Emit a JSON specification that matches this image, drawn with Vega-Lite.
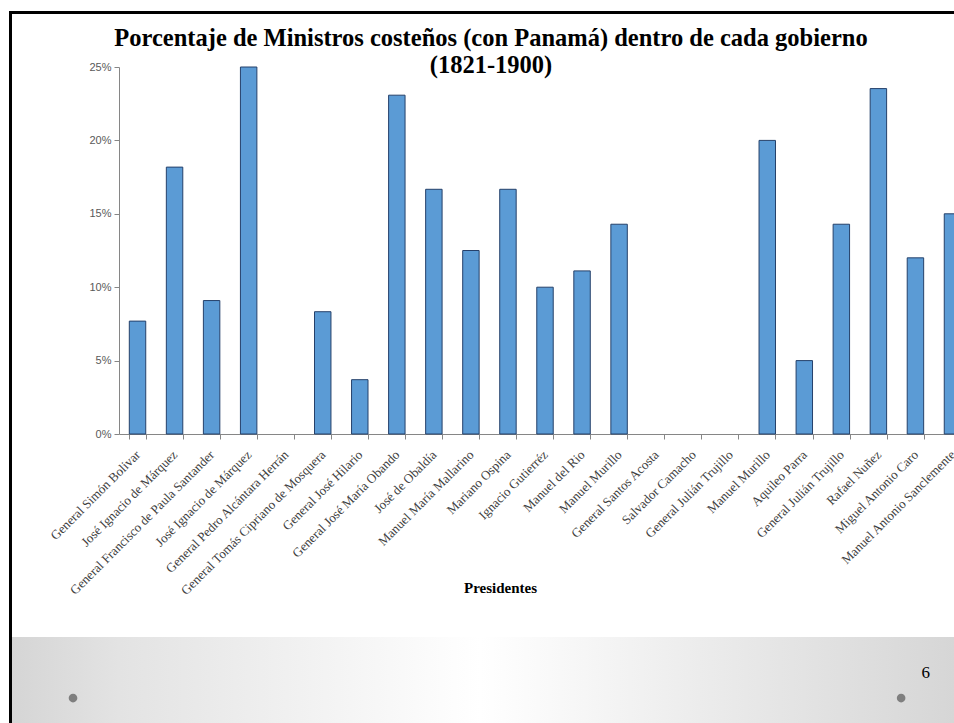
{
  "$schema": "https://vega.github.io/schema/vega-lite/v6.json",
  "padding": {"left": 9, "top": 11, "right": 0, "bottom": 0},
  "background": "white",
  "config": {"view": {"stroke": null}, "font": "Liberation Serif"},
  "bounds": "flush",
  "spacing": 0,
  "columns": 2,
  "concat": [
    {
      "width": 110, "height": 3,
      "view": {"fill": "#000000", "stroke": null},
      "data": {"values": []}, "mark": "point", "encoding": {}
    },
    {
      "width": 852, "height": 3,
      "view": {"fill": "#000000", "stroke": null},
      "data": {"values": []}, "mark": "point", "encoding": {}
    },
    {
      "width": 110, "height": 53,
      "view": {"stroke": null, "fill": {"gradient": "linear", "x1": 0, "y1": 0, "x2": 1, "y2": 0,
        "stops": [{"offset": 0, "color": "#000000"}, {"offset": 0.027, "color": "#000000"}, {"offset": 0.028, "color": "#ffffff"}, {"offset": 1, "color": "#ffffff"}]}},
      "data": {"values": []}, "mark": "point", "encoding": {}
    },
    {
      "width": 852, "height": 53,
      "data": {"values": []}, "mark": "point", "encoding": {}
    },
    {
      "width": 110, "height": 570,
      "view": {"stroke": null, "fill": {"gradient": "linear", "x1": 0, "y1": 0, "x2": 1, "y2": 0,
        "stops": [{"offset": 0, "color": "#000000"}, {"offset": 0.027, "color": "#000000"}, {"offset": 0.028, "color": "#ffffff"}, {"offset": 1, "color": "#ffffff"}]}},
      "data": {"values": []}, "mark": "point", "encoding": {}
    },
    {
      "width": 852, "height": 367,
      "title": {
        "text": ["Porcentaje de Ministros costeños (con Panamá) dentro de cada gobierno", "(1821-1900)"],
        "font": "Liberation Serif", "fontSize": 24.5, "fontWeight": "bold", "color": "#000000",
        "anchor": "middle", "frame": "group", "dx": -54, "offset": -17, "lineHeight": 27
      },
      "data": {"values": [
        {"clave": "01 General Simón Bolivar", "porcentaje": 0.0769},
        {"clave": "02 José Ignacio de Márquez", "porcentaje": 0.1818},
        {"clave": "03 General Francisco de Paula Santander", "porcentaje": 0.0909},
        {"clave": "04 José Ignacio de Márquez", "porcentaje": 0.25},
        {"clave": "05 General Pedro Alcántara Herrán", "porcentaje": 0},
        {"clave": "06 General Tomás Cipriano de Mosquera", "porcentaje": 0.0833},
        {"clave": "07 General José Hilario", "porcentaje": 0.037},
        {"clave": "08 General José María Obando", "porcentaje": 0.2308},
        {"clave": "09 José de Obaldía", "porcentaje": 0.1667},
        {"clave": "10 Manuel María Mallarino", "porcentaje": 0.125},
        {"clave": "11 Mariano Ospina", "porcentaje": 0.1667},
        {"clave": "12 Ignacio Gutierréz", "porcentaje": 0.1},
        {"clave": "13 Manuel del Rio", "porcentaje": 0.1111},
        {"clave": "14 Manuel Murillo", "porcentaje": 0.1429},
        {"clave": "15 General Santos Acosta", "porcentaje": 0},
        {"clave": "16 Salvador Camacho", "porcentaje": 0},
        {"clave": "17 General Julián Trujillo", "porcentaje": 0},
        {"clave": "18 Manuel Murillo", "porcentaje": 0.2},
        {"clave": "19 Aquileo Parra", "porcentaje": 0.05},
        {"clave": "20 General Julián Trujillo", "porcentaje": 0.1429},
        {"clave": "21 Rafael Nuñez", "porcentaje": 0.2353},
        {"clave": "22 Miguel Antonio Caro", "porcentaje": 0.12},
        {"clave": "23 Manuel Antonio Sanclemente", "porcentaje": 0.15}
      ]},
      "mark": {"type": "bar", "fill": "#5B9BD5", "stroke": "#25406a", "strokeWidth": 1},
      "encoding": {
        "x": {
          "field": "clave", "type": "nominal", "sort": null,
          "scale": {"paddingInner": 0.556, "paddingOuter": 0.278},
          "axis": {
            "title": "Presidentes",
            "labelExpr": "slice(datum.label, 3)",
            "labelAngle": -45, "labelAlign": "right", "labelBaseline": "top",
            "labelFont": "Liberation Serif", "labelFontSize": 13, "labelColor": "#404040",
            "labelPadding": 9, "labelOffset": -4, "labelOverlap": false, "labelLimit": 400,
            "tickBand": "extent", "tickSize": 5, "tickColor": "#868686",
            "domainColor": "#868686",
            "titleFont": "Liberation Serif", "titleFontSize": 15, "titleFontWeight": "bold", "titleColor": "#000000",
            "titleX": 381, "titleY": 158, "titleBaseline": "alphabetic", "titleAlign": "center"
          }
        },
        "y": {
          "field": "porcentaje", "type": "quantitative",
          "scale": {"domain": [0, 0.25], "nice": false},
          "axis": {
            "title": null, "format": ".0%", "values": [0, 0.05, 0.1, 0.15, 0.2, 0.25],
            "grid": false, "tickSize": 5, "tickColor": "#868686", "domainColor": "#868686",
            "labelFont": "Liberation Sans", "labelFontSize": 11, "labelColor": "#595959", "labelPadding": 3
          }
        },
        "strokeOpacity": {"condition": {"test": "datum.porcentaje > 0", "value": 1}, "value": 0}
      }
    },
    {
      "width": 110, "height": 86,
      "view": {"stroke": null, "fill": {"gradient": "linear", "x1": 0, "y1": 0, "x2": 1, "y2": 0,
        "stops": [{"offset": 0, "color": "#000000"}, {"offset": 0.027, "color": "#000000"}, {"offset": 0.028, "color": "#d5d5d5"}, {"offset": 1, "color": "#e3e3e3"}]}},
      "data": {"values": [{"elemento": "punto", "x": 0.582, "y": 0.29}]},
      "mark": {"type": "point", "filled": true, "shape": "circle", "size": 75, "color": "#7f7f7f", "opacity": 1},
      "encoding": {
        "x": {"field": "x", "type": "quantitative", "scale": {"domain": [0, 1]}, "axis": null},
        "y": {"field": "y", "type": "quantitative", "scale": {"domain": [0, 1]}, "axis": null}
      }
    },
    {
      "width": 852, "height": 86,
      "view": {"stroke": null, "fill": {"gradient": "linear", "x1": 0, "y1": 0, "x2": 1, "y2": 0,
        "stops": [{"offset": 0, "color": "#e3e3e3"}, {"offset": 0.424, "color": "#ffffff"}, {"offset": 0.98, "color": "#d6d6d6"}, {"offset": 1, "color": "#d5d5d5"}]}},
      "data": {"values": [
        {"elemento": "punto", "x": 0.918, "y": 0.29, "texto": ""},
        {"elemento": "pagina", "x": 0.947, "y": 0.58, "texto": "6"}
      ]},
      "encoding": {
        "x": {"field": "x", "type": "quantitative", "scale": {"domain": [0, 1]}, "axis": null},
        "y": {"field": "y", "type": "quantitative", "scale": {"domain": [0, 1]}, "axis": null}
      },
      "layer": [
        {
          "transform": [{"filter": "datum.elemento === 'punto'"}],
          "mark": {"type": "point", "filled": true, "shape": "circle", "size": 75, "color": "#7f7f7f", "opacity": 1}
        },
        {
          "transform": [{"filter": "datum.elemento === 'pagina'"}],
          "mark": {"type": "text", "font": "Liberation Serif", "fontSize": 17, "color": "#000000"},
          "encoding": {"text": {"field": "texto"}}
        }
      ]
    }
  ]
}
